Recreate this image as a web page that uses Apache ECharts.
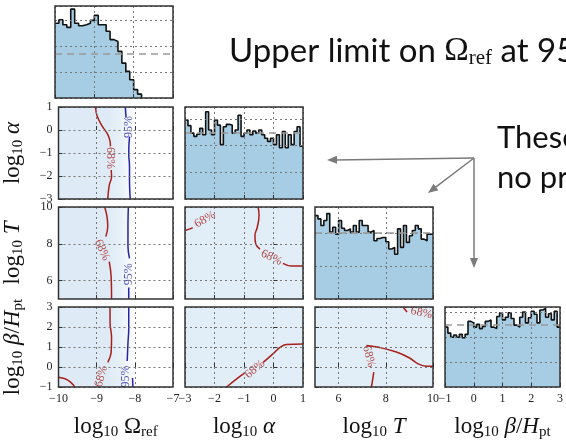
<!DOCTYPE html>
<html>
<head>
<meta charset="utf-8">
<script src="https://cdn.jsdelivr.net/npm/echarts@6/dist/echarts.min.js"></script>
<style>
  html, body { margin: 0; padding: 0; background: #fff; }
  #main { width: 566px; height: 441px; }
</style>
</head>
<body>
<div id="main"></div>
<script>
// 参数范围与刻度
var omegaRange = [-10, -7];
var alphaRange = [-3, 1];
var tRange = [5, 10];
var betaRange = [-1, 3];
var omegaTicks = [-10, -9, -8, -7];
var alphaTicks = [-3, -2, -1, 0, 1];
var tTicks = [6, 8, 10];
var betaTicks = [-1, 0, 1, 2, 3];

// 一维后验直方图（起点、格宽、计数）
var histStart = [-10, -3, 5, -1];
var histWidth = [0.1, 0.1, 0.125, 0.1];
var omegaHist = [287, 300, 281, 271, 341, 287, 277, 281, 287, 298, 317, 281, 281, 256, 224, 217, 179, 134, 102, 70, 32, 15];
var alphaHist = [296, 275, 247, 235, 243, 265, 241, 327, 259, 241, 296, 277, 204, 271, 280, 277, 247, 259, 314, 235,
  247, 259, 241, 255, 247, 259, 241, 228, 216, 228, 204, 241, 192, 253, 192, 241, 204, 253, 271, 198];
var tHist = [252, 242, 222, 237, 258, 202, 217, 196, 237, 214, 207, 212, 202, 222, 202, 237, 222, 222, 202, 207,
  176, 183, 186, 186, 173, 151, 156, 135, 212, 156, 222, 171, 191, 207, 222, 212, 181, 176, 196, 196];
var betaHist = [241, 217, 200, 209, 200, 212, 198, 212, 264, 258, 241, 252, 235, 244, 264, 270, 241, 235, 284, 299,
  270, 281, 299, 276, 249, 241, 281, 302, 258, 279, 305, 293, 258, 310, 316, 281, 295, 270, 305, 241];
var histMax = [353, 345, 278, 322];
var priorLevel = [170, 247, 200, 251];

// 二维面板的样本密度（Ω 方向的轮廓）
var omegaDensity = [[-10, 1], [-8.7, 1], [-8.4, 0.75], [-8.2, 0.4], [-8.05, 0.1], [-7.95, 0]];

// 等高线（68% 红，95% 蓝）
var oa68 = [[[-9.03, 1], [-8.99, 0.62], [-8.86, 0.18], [-8.71, -0.19], [-8.65, -0.49], [-8.64, -0.71]],
  [[-8.62, -1.74], [-8.61, -2.03], [-8.67, -2.4], [-8.71, -3]]];
var oa95 = [[[-8.25, 1], [-8.23, 0.54]],
  [[-8.14, -0.29], [-8.16, -1.0], [-8.14, -1.59], [-8.14, -2.18], [-8.12, -3]]];
var ot68 = [[[-8.79, 10], [-8.73, 9.49], [-8.71, 8.94], [-8.76, 8.39]],
  [[-8.67, 7.03], [-8.62, 6.2], [-8.61, 5.0]]];
var ot95 = [[[-8.17, 10], [-8.18, 8.94], [-8.18, 7.85], [-8.14, 7.21]],
  [[-8.16, 5.62], [-8.16, 5.0]]];
var ob68 = [[[-8.65, 3], [-8.65, 2.23], [-8.61, 1.49], [-8.62, 0.75], [-8.71, 0.23]],
  [[-10, -0.51], [-9.83, -0.59], [-9.7, -0.73], [-9.62, -0.88], [-9.58, -1]]];
var ob95 = [[[-8.16, 3], [-8.16, 1.93], [-8.18, 1.19], [-8.2, 0.3]],
  [[-8.06, -0.55], [-8.05, -1]]];
var at68 = [[[-3, 8.72], [-2.83, 8.81], [-2.74, 8.88]],
  [[-0.52, 10], [-0.49, 9.54], [-0.55, 8.9], [-0.63, 8.44], [-0.6, 7.99], [-0.46, 7.71]],
  [[0.32, 6.94], [0.61, 6.79], [1, 6.79]]];
var ab68 = [[[-1.59, -1], [-1.25, -0.59], [-0.97, -0.29]],
  [[-0.35, 0.23], [-0.01, 0.67], [0.21, 0.97], [0.44, 1.12], [1, 1.15]]];
var tb68 = [[[8.73, 3], [8.9, 2.75]],
  [[7.18, 1.07], [7.75, 0.97], [8.45, 0.75], [9.01, 0.45], [9.37, 0.16], [9.72, 0.04], [10, 0.04]],
  [[7.49, -0.26], [7.44, -0.66], [7.39, -1]]];

// 等高线标注：[x, y, 旋转角]
var oaLab68 = [[-8.65, -1.22, -90]], oaLab95 = [[-8.17, 0.13, 90]];
var otLab68 = [[-8.86, 7.66, -65]], otLab95 = [[-8.17, 6.35, 90]];
var obLab68 = [[-8.88, -0.47, 75]], obLab95 = [[-8.23, -0.47, 90]];
var atLab68 = [[-2.32, 9.32, 30], [-0.07, 7.25, -25]];
var abLab68 = [[-0.63, -0.11, 40]];
var tbLab68 = [[9.51, 2.7, -12], [7.28, 0.53, -75]];

var red = '#a8201a', blue = '#2424a6';
var serif = 'Liberation Serif', sans = 'Lato';
var histFill = '#a6cde3';
var tint = [90, 155, 210];

var colLeft = [55, 185, 315, 445];
var rowTop = [6, 107, 207, 307];
var cellW = 118, cellH = 92;

var params = [
  { range: omegaRange, ticks: omegaTicks, label: '{n|log}{s|10}{n| Ω}{s|ref}' },
  { range: alphaRange, ticks: alphaTicks, label: '{n|log}{s|10}{g| α}' },
  { range: tRange, ticks: tTicks, label: '{n|log}{s|10}{g| T}' },
  { range: betaRange, ticks: betaTicks, label: '{n|log}{s|10}{g| β}{n|/}{g|H}{s|pt}' }
];

var panels = {
  '1-0': { lines: [[oa68, red], [oa95, blue]], labels: [[oaLab68, '68%', red], [oaLab95, '95%', blue]], omega: true },
  '2-0': { lines: [[ot68, red], [ot95, blue]], labels: [[otLab68, '68%', red], [otLab95, '95%', blue]], omega: true },
  '3-0': { lines: [[ob68, red], [ob95, blue]], labels: [[obLab68, '68%', red], [obLab95, '95%', blue]], omega: true },
  '2-1': { lines: [[at68, red]], labels: [[atLab68, '68%', red]] },
  '3-1': { lines: [[ab68, red]], labels: [[abLab68, '68%', red]] },
  '3-2': { lines: [[tb68, red]], labels: [[tbLab68, '68%', red]] }
};

var nameRich = {
  n: { fontFamily: serif, fontSize: 23, color: '#111' },
  g: { fontFamily: serif, fontSize: 23, fontStyle: 'italic', color: '#111' },
  s: { fontFamily: serif, fontSize: 15, color: '#111', padding: [11, 0, 0, 0] }
};
var gridLine = { lineStyle: { color: '#777', type: [2, 3], width: 1 } };

function minus(v) {
  return String(v).replace('-', '\u2212');
}

function stepData(start, width, counts, drop) {
  var pts = counts.map(function (c, i) { return [start + i * width, c]; });
  var end = start + counts.length * width;
  pts.push([end, counts[counts.length - 1]]);
  if (drop) pts.push([end, 0]);
  return pts;
}

function rgba(a) {
  return 'rgba(' + tint.join(',') + ',' + a + ')';
}

var grids = [], xAxes = [], yAxes = [], series = [];

for (var r = 0; r < 4; r++) {
  for (var c = 0; c <= r; c++) {
    var gi = grids.length;
    var px = params[c], py = params[r];
    grids.push({
      left: colLeft[c], top: rowTop[r], width: cellW, height: cellH,
      show: true, borderColor: '#333', borderWidth: 1.5, z: 6
    });
    xAxes.push({
      type: 'value', gridIndex: gi, min: px.range[0], max: px.range[1], z: 5,
      axisLine: { show: false },
      axisTick: { show: true, inside: true, length: 4, customValues: px.ticks, lineStyle: { color: '#333' } },
      axisLabel: {
        show: r === 3, customValues: px.ticks, formatter: minus, margin: 6,
        fontFamily: serif, fontSize: 12, color: '#222'
      },
      splitLine: Object.assign({ show: true }, gridLine),
      name: r === 3 ? px.label : '', nameLocation: 'middle', nameGap: 27,
      nameTextStyle: { rich: nameRich }
    });
    if (c === r) {
      yAxes.push({
        type: 'value', gridIndex: gi, min: 0, max: histMax[r], interval: 100, z: 5,
        axisLine: { show: false }, axisTick: { show: false }, axisLabel: { show: false },
        splitLine: Object.assign({ show: true }, gridLine)
      });
      series.push({
        type: 'line', xAxisIndex: gi, yAxisIndex: gi, step: 'end', symbol: 'none',
        data: stepData(histStart[r], histWidth[r], [omegaHist, alphaHist, tHist, betaHist][r], r === 0),
        lineStyle: { color: '#111', width: 1.6 },
        areaStyle: { color: histFill, opacity: 1 },
        markLine: {
          silent: true, symbol: ['none', 'none'], label: { show: false },
          lineStyle: { color: '#999', type: [7, 5], width: 1.5 },
          data: [{ yAxis: priorLevel[r] }]
        }
      });
    } else {
      yAxes.push({
        type: 'value', gridIndex: gi, min: py.range[0], max: py.range[1], z: 5,
        axisLine: { show: false },
        axisTick: { show: true, inside: true, length: 4, customValues: py.ticks, lineStyle: { color: '#333' } },
        axisLabel: {
          show: c === 0, customValues: py.ticks, formatter: minus, margin: 6,
          fontFamily: serif, fontSize: 12, color: '#222'
        },
        splitLine: Object.assign({ show: true }, gridLine),
        name: c === 0 ? py.label : '', nameLocation: 'middle', nameGap: 33, nameRotate: 90,
        nameTextStyle: { rich: nameRich }
      });
      var p = panels[r + '-' + c];
      // 样本密度底色
      var fill;
      if (p.omega) {
        var span = omegaRange[1] - omegaRange[0];
        fill = new echarts.graphic.LinearGradient(0, 0, 1, 0, omegaDensity.map(function (d) {
          return { offset: (d[0] - omegaRange[0]) / span, color: rgba(0.2 * d[1]) };
        }));
      } else {
        fill = rgba(0.18);
      }
      series.push({
        type: 'line', xAxisIndex: gi, yAxisIndex: gi, data: [], symbol: 'none',
        markArea: {
          silent: true, itemStyle: { color: fill },
          data: [[{ coord: [px.range[0], py.range[0]] }, { coord: [px.range[1], py.range[1]] }]]
        }
      });
      p.lines.forEach(function (set) {
        set[0].forEach(function (seg) {
          series.push({
            type: 'line', xAxisIndex: gi, yAxisIndex: gi, data: seg, symbol: 'none', smooth: 0.4,
            lineStyle: { color: set[1], width: 1.5 }, z: 4
          });
        });
      });
      p.labels.forEach(function (set) {
        series.push({
          type: 'scatter', xAxisIndex: gi, yAxisIndex: gi, symbolSize: 0, z: 4,
          data: set[0].map(function (d) {
            return { value: [d[0], d[1]], label: { rotate: d[2] } };
          }),
          label: {
            show: true, position: 'inside', formatter: set[1],
            fontFamily: serif, fontSize: 12, color: set[2]
          }
        });
      });
    }
  }
}

// 幻灯片上的文字与箭头
var arrowColor = '#7a7a7a';
function arrowHead(tip, from) {
  var dx = tip[0] - from[0], dy = tip[1] - from[1];
  var len = Math.sqrt(dx * dx + dy * dy);
  var ux = dx / len, uy = dy / len;
  var bx = tip[0] - ux * 10, by = tip[1] - uy * 10;
  return {
    type: 'polygon', silent: true,
    shape: { points: [tip, [bx - uy * 4, by + ux * 4], [bx + uy * 4, by - ux * 4]] },
    style: { fill: arrowColor }
  };
}
var arrowFrom = [474, 158];
var arrowTips = [[327, 160], [428, 193], [474, 268]];
var graphics = [
  {
    type: 'text', left: 229, top: 35, silent: true,
    style: {
      text: '{a|Upper limit on }{o|Ω}{s|ref}{a| at 95%}',
      rich: {
        a: { fontFamily: sans, fontSize: 33, fill: '#111' },
        o: { fontFamily: serif, fontSize: 33, fill: '#111' },
        s: { fontFamily: serif, fontSize: 21, fill: '#111', padding: [13, 0, 0, 0] }
      }
    }
  },
  { type: 'text', left: 497, top: 122, silent: true, style: { text: 'These', fontFamily: sans, fontSize: 31, fill: '#111' } },
  { type: 'text', left: 497, top: 162, silent: true, style: { text: 'no pro', fontFamily: sans, fontSize: 31, fill: '#111' } }
];
arrowTips.forEach(function (tip) {
  var dx = tip[0] - arrowFrom[0], dy = tip[1] - arrowFrom[1];
  var len = Math.sqrt(dx * dx + dy * dy);
  graphics.push({
    type: 'line', silent: true,
    shape: { x1: arrowFrom[0], y1: arrowFrom[1], x2: tip[0] - dx / len * 8, y2: tip[1] - dy / len * 8 },
    style: { stroke: arrowColor, lineWidth: 1.5 }
  });
  graphics.push(arrowHead(tip, arrowFrom));
});

var myChart = echarts.init(document.getElementById('main'));
var option = {
  animation: false,
  backgroundColor: '#fff',
  grid: grids,
  xAxis: xAxes,
  yAxis: yAxes,
  series: series,
  graphic: graphics
};
myChart.setOption(option);
</script>
</body>
</html>
